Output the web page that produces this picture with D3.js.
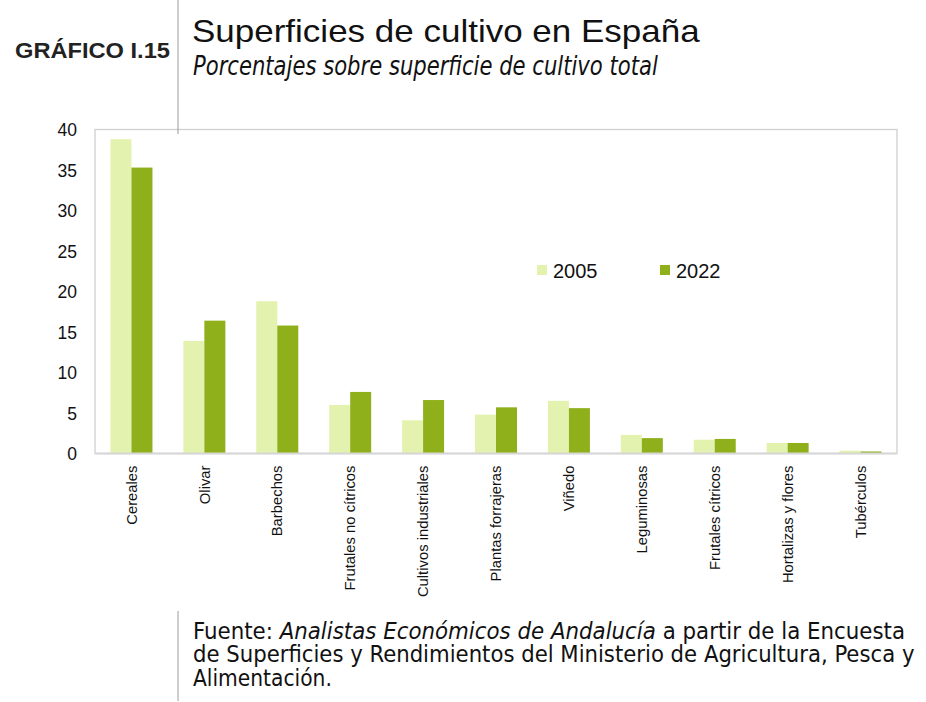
<!DOCTYPE html>
<html><head><meta charset="utf-8">
<script src="https://cdn.jsdelivr.net/npm/d3@7"></script>
<style>body{margin:0;background:#fff}svg{display:block}</style>
</head><body>
<script>
const categories = ["Cereales","Olivar","Barbechos","Frutales no cítricos","Cultivos industriales","Plantas forrajeras","Viñedo","Leguminosas","Frutales cítricos","Hortalizas y flores","Tubérculos"];
const series2005 = [38.8,13.9,18.8,6.0,4.1,4.8,6.5,2.3,1.7,1.3,0.35];
const series2022 = [35.3,16.4,15.8,7.6,6.6,5.7,5.6,1.9,1.8,1.3,0.25];
const seriesNames = ["2005","2022"];
const yTicks = [0,5,10,15,20,25,30,35,40];
const colors = ["#e3f2ae","#8fb01b"];

const W=926,H=702;
const svg=d3.select("body").append("svg").attr("width",W).attr("height",H);
const m={l:95,r:897,t:129.5,b:453.5};
const x=d3.scaleBand().domain(categories).range([m.l,m.r]);
const y=d3.scaleLinear().domain([0,40]).range([m.b,m.t]);
const bw=21;
const sans="Liberation Sans, Arial, sans-serif";
const cond="DejaVu Sans Condensed, DejaVu Sans, sans-serif";

svg.append("rect").attr("x",m.l).attr("y",m.t).attr("width",m.r-m.l).attr("height",m.b-m.t)
  .attr("fill","none").attr("stroke","#d0d0d0").attr("stroke-width",1.3);

svg.append("line").attr("x1",178).attr("x2",178).attr("y1",0).attr("y2",134).attr("stroke","#9a9a9a").attr("stroke-width",1);
svg.append("line").attr("x1",178).attr("x2",178).attr("y1",611).attr("y2",701).attr("stroke","#9a9a9a").attr("stroke-width",1);

const data=[series2005,series2022];
data.forEach((s,si)=>{
  svg.append("g").selectAll("rect").data(categories).join("rect")
    .attr("x",d=>x(d)+x.bandwidth()/2-bw+si*bw)
    .attr("y",(d,i)=>y(s[i]))
    .attr("width",bw)
    .attr("height",(d,i)=>y(0)-y(s[i]))
    .attr("fill",colors[si]);
});
svg.append("line").attr("x1",m.l).attr("x2",m.r).attr("y1",m.b).attr("y2",m.b).attr("stroke","#d6d6d6").attr("stroke-width",2);

const ya=d3.axisLeft(y).tickValues(yTicks).tickSize(0).tickPadding(0);
const gy=svg.append("g").attr("transform",`translate(${m.l-18},0)`).call(ya);
gy.select(".domain").remove();
gy.selectAll("text").attr("font-family",sans).attr("font-size",17.5).attr("fill","#111").attr("dy","0.36em");

const xa=d3.axisBottom(x).tickSize(0).tickPadding(0);
const gx=svg.append("g").attr("transform",`translate(0,${m.b+12})`).call(xa);
gx.select(".domain").remove();
gx.selectAll("text").attr("font-family",sans).attr("font-size",14.8).attr("fill","#111")
  .attr("transform","rotate(-90)").attr("text-anchor","end").attr("x",0).attr("y",0).attr("dy","0.35em").attr("dx",0);

const leg=[{t:seriesNames[0],x:537},{t:seriesNames[1],x:660}];
leg.forEach((l,i)=>{
  svg.append("rect").attr("x",l.x).attr("y",265).attr("width",10).attr("height",10).attr("fill",colors[i]);
  svg.append("text").attr("x",l.x+16).attr("y",278).text(l.t).attr("font-family",sans).attr("font-size",20).attr("fill","#111");
});

function fitText(sel,target){
  const w=sel.node().getComputedTextLength();
  const x0=+sel.attr("x");
  sel.attr("transform",`translate(${x0},0) scale(${target/w},1) translate(${-x0},0)`);
}
const g1=svg.append("text").attr("x",15).attr("y",58).text("GRÁFICO I.15").attr("font-family",sans).attr("font-weight","bold").attr("font-size",22).attr("fill","#222");
fitText(g1,155);
const t1=svg.append("text").attr("x",192).attr("y",42).text("Superficies de cultivo en España").attr("font-family",sans).attr("font-size",31).attr("fill","#111");
fitText(t1,508);
const sub=svg.append("text").attr("x",193).attr("y",75).text("Porcentajes sobre superficie de cultivo total")
  .attr("font-family",cond).attr("font-style","italic").attr("font-size",26).attr("fill","#111");
fitText(sub,465);

const fs=23.5;
const pieces=[{t:"Fuente: ",it:false},{t:"Analistas Económicos de Andalucía",it:true},{t:" a partir de la Encuesta",it:false}];
const tmp=pieces.map(p=>{
  const e=svg.append("text").attr("x",0).attr("y",639).attr("font-family",cond).attr("font-size",fs).attr("fill","#111")
    .attr("font-style",p.it?"italic":"normal").style("white-space","pre").text(p.t);
  return {e,w:e.node().getComputedTextLength()};
});
const tot=d3.sum(tmp,d=>d.w);
const k=712/tot;
let cx=193;
tmp.forEach(d=>{
  d.e.attr("transform",`translate(${cx},0) scale(${k},1)`);
  cx+=d.w*k;
});
const l2=svg.append("text").attr("x",193).attr("y",662).attr("font-family",cond).attr("font-size",fs).attr("fill","#111")
  .text("de Superficies y Rendimientos del Ministerio de Agricultura, Pesca y");
fitText(l2,722);
const l3=svg.append("text").attr("x",193).attr("y",686).attr("font-family",cond).attr("font-size",fs).attr("fill","#111")
  .text("Alimentación.");
fitText(l3,139);
</script>
</body></html>
